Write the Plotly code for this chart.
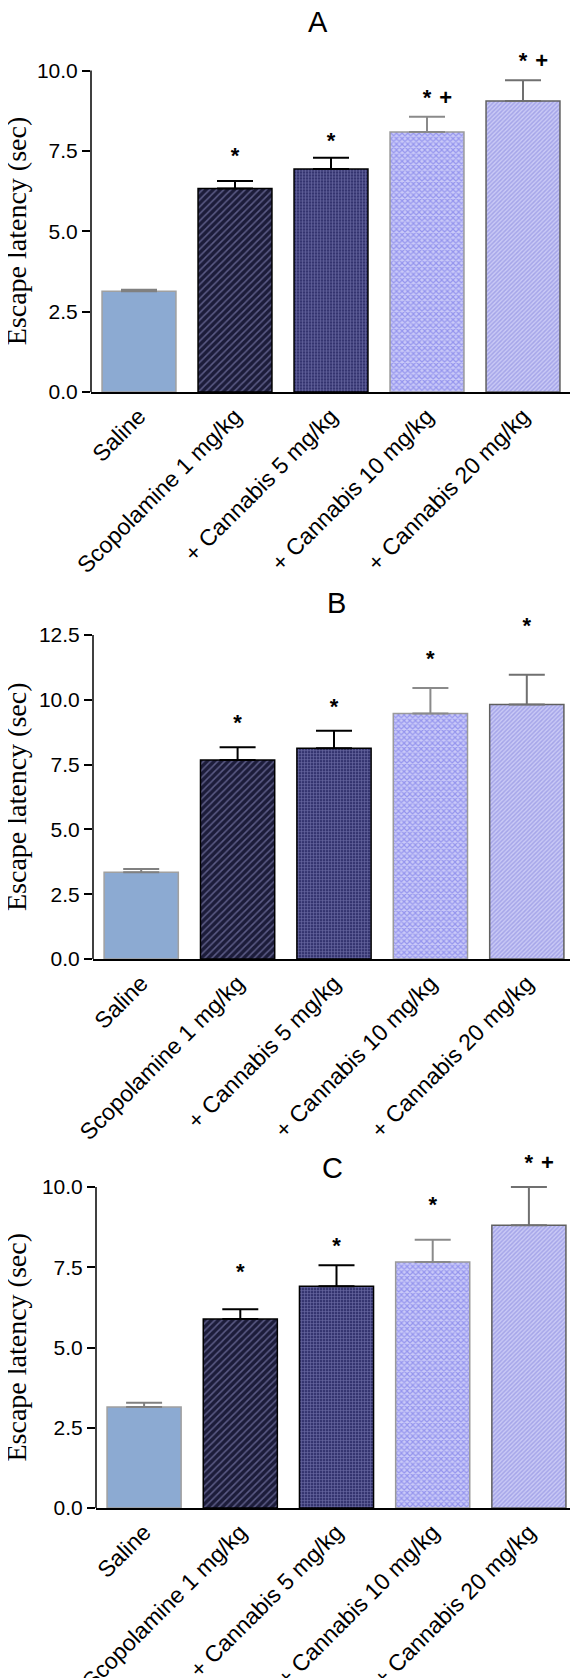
import plotly.graph_objects as go

categories = ["Saline", "Scopolamine 1 mg/kg", "+ Cannabis 5 mg/kg",
              "+ Cannabis 10 mg/kg", "+ Cannabis 20 mg/kg"]

A_mean = [3.13, 6.33, 6.94, 8.09, 9.05]
A_sem = [0.05, 0.23, 0.35, 0.47, 0.65]
A_star = ["", "*", "*", "*", "*"]
A_plus = ["", "", "", "+", "+"]
A_sig_y = [None, 7.3, 7.75, 9.1, 10.25]

B_mean = [3.35, 7.68, 8.13, 9.47, 9.82]
B_sem = [0.12, 0.49, 0.68, 0.99, 1.15]
B_star = ["", "*", "*", "*", "*"]
B_plus = ["", "", "", "", ""]
B_sig_y = [None, 9.05, 9.65, 11.5, 12.8]

C_mean = [3.15, 5.89, 6.91, 7.66, 8.81]
C_sem = [0.13, 0.30, 0.65, 0.70, 1.19]
C_star = ["", "*", "*", "*", "*"]
C_plus = ["", "", "", "", "+"]
C_sig_y = [None, 7.3, 8.13, 9.38, 10.7]

panel_titles = ["A", "B", "C"]
y_ticks = {"A": [0, 2.5, 5, 7.5, 10], "B": [0, 2.5, 5, 7.5, 10, 12.5], "C": [0, 2.5, 5, 7.5, 10]}
y_max = {"A": 10, "B": 12.5, "C": 10}
y_room = {"A": 11.4, "B": 14.0, "C": 11.4}   # headroom above the axis for significance marks

# styling per bar
styles = [
    dict(color="#8caad2", pattern=None, line="#a0a0a0", err="#808080"),
    dict(color="#1c1c3a", pattern=dict(shape="/", bgcolor="#1c1c3a", fgcolor="#9a9ad0", size=5, solidity=0.3), line="#000000", err="#000000"),
    dict(color="#3a3a78", pattern=dict(shape="+", bgcolor="#34346f", fgcolor="#a8a8e0", size=3, solidity=0.35), line="#000000", err="#000000"),
    dict(color="#c8c8f8", pattern=dict(shape="x", bgcolor="#cacaf8", fgcolor="#6060e4", size=4, solidity=0.5), line="#9a9a9a", err="#8a8a8a"),
    dict(color="#c8c8f4", pattern=dict(shape="/", bgcolor="#cacaf5", fgcolor="#8080dc", size=3, solidity=0.5), line="#606060", err="#707070"),
]

W, H = 578, 1678
OFF = 8  # page body margin
# target screen layout in pixels (left, right, y of axis max, y of zero)
geo = {
    "A": dict(l=91, r=571, t=70.5, b=392, title_x=318, title_y=22),
    "B": dict(l=93, r=575, t=635, b=959, title_x=336, title_y=603),
    "C": dict(l=96, r=577, t=1187, b=1508, title_x=332, title_y=1168),
}
data = {
    "A": (A_mean, A_sem, A_star, A_plus, A_sig_y),
    "B": (B_mean, B_sem, B_star, B_plus, B_sig_y),
    "C": (C_mean, C_sem, C_star, C_plus, C_sig_y),
}


def px(x):
    return (x - OFF) / W


def py(y):
    return 1 - (y - OFF) / H


fig = go.Figure()
annotations = []
shapes = []
layout = {}
sig_font = dict(family="Liberation Sans, Arial", size=22, color="black", weight="bold")
for k, name in enumerate(panel_titles):
    suf = "" if k == 0 else str(k + 1)
    g = geo[name]
    mean, sem, star, plus, sig_y = data[name]
    for i, cat in enumerate(categories):
        st = styles[i]
        marker = dict(color=st["color"], line=dict(color=st["line"], width=1.5))
        if st["pattern"]:
            marker["pattern"] = st["pattern"]
        fig.add_trace(go.Bar(
            x=[cat], y=[mean[i]], width=0.77, marker=marker,
            error_y=dict(type="data", symmetric=False, array=[sem[i]], arrayminus=[0],
                         color=st["err"], thickness=2, width=18),
            xaxis="x" + suf, yaxis="y" + suf, showlegend=False, hoverinfo="y"))
    sx = [c for c, s in zip(categories, star) if s]
    sy = [v for v, s in zip(sig_y, star) if s]
    fig.add_trace(go.Scatter(x=sx, y=sy, mode="text", text=[s for s in star if s],
                             textposition="middle center", textfont=sig_font, cliponaxis=False,
                             xaxis="x" + suf, yaxis="y" + suf, showlegend=False, hoverinfo="skip"))
    px_ = [c for c, s in zip(categories, plus) if s]
    py_ = [v for v, s in zip(sig_y, plus) if s]
    if px_:
        fig.add_trace(go.Scatter(x=px_, y=py_, mode="text", text=["\u00a0\u00a0" + s for s in plus if s],
                                 textposition="middle right", textfont=sig_font, cliponaxis=False,
                                 xaxis="x" + suf, yaxis="y" + suf, showlegend=False, hoverinfo="skip"))
    # the y range includes headroom; the visible axis line stops at the top tick
    top_px = g["b"] - (g["b"] - g["t"]) * y_room[name] / y_max[name]
    layout["xaxis" + suf] = dict(
        domain=[px(g["l"]), px(g["r"])], anchor="y" + suf, type="category",
        range=[-0.5, 4.5], showline=True, linecolor="black", linewidth=1.5,
        ticks="", tickangle=-45, showgrid=False, zeroline=False,
        tickfont=dict(family="Liberation Sans, Arial", size=23, color="black"))
    layout["yaxis" + suf] = dict(
        domain=[py(g["b"]), py(top_px)], anchor="x" + suf,
        range=[0, y_room[name]], tickvals=y_ticks[name], tickformat=".1f",
        showline=False, ticks="outside",
        ticklen=8, tickwidth=1.5, tickcolor="black", showgrid=False, zeroline=False,
        tickfont=dict(family="Liberation Sans, Arial", size=21, color="black"))
    shapes.append(dict(type="line", xref="x" + suf + " domain", yref="y" + suf,
                       x0=0, x1=0, y0=0, y1=y_max[name],
                       line=dict(color="black", width=1.5)))
    annotations.append(dict(x=px(g["title_x"]), y=py(g["title_y"]), xref="paper", yref="paper",
                            text=name, showarrow=False, xanchor="center", yanchor="middle",
                            font=dict(family="Liberation Sans, Arial", size=29, color="black")))
    annotations.append(dict(x=px(16), y=py((g["t"] + g["b"]) / 2), xref="paper", yref="paper",
                            text="Escape latency (sec)", textangle=-90, showarrow=False,
                            xanchor="center", yanchor="middle",
                            font=dict(family="Liberation Serif, Times New Roman", size=28, color="black")))

fig.update_layout(
    width=W, height=H, margin=dict(l=0, r=0, t=0, b=0, autoexpand=False),
    paper_bgcolor="white", plot_bgcolor="rgba(0,0,0,0)",
    barmode="overlay", annotations=annotations, shapes=shapes, **layout)

fig.write_html("out.html")
